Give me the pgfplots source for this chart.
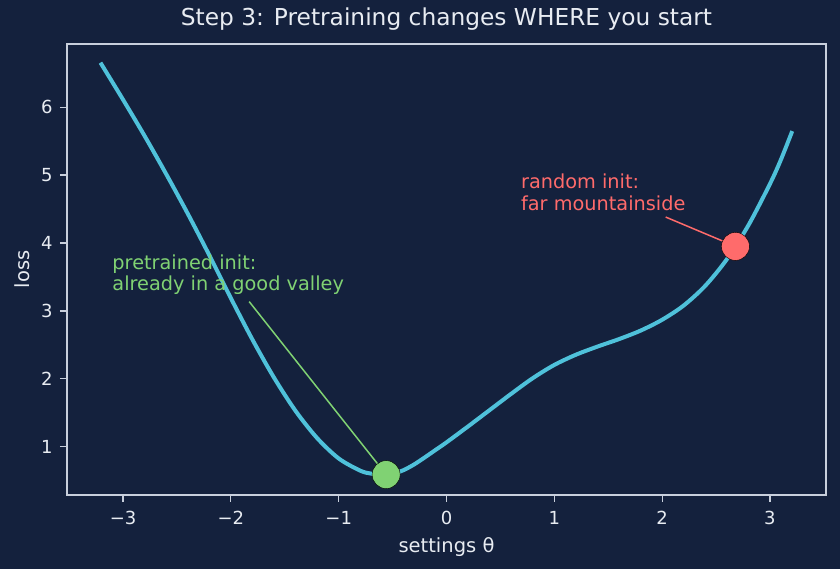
\documentclass[border=0pt]{standalone}
\usepackage{fontspec}
\setmainfont{DejaVu Sans}
\usepackage{pgfplots}
\pgfplotsset{compat=1.18}
\definecolor{bg}{HTML}{14213D}
\definecolor{curve}{HTML}{4FC1DA}
\definecolor{spine}{HTML}{C8CFDC}
\definecolor{txt}{HTML}{E8ECF2}
\definecolor{good}{HTML}{80D273}
\definecolor{bad}{HTML}{FF6B6B}
\begin{document}
\begin{tikzpicture}[x=1pt,y=1pt]
\fill[bg] (0,0) rectangle (840,569);
\useasboundingbox (0,0) rectangle (840,569);
\begin{axis}[
  at={(67pt,74pt)}, anchor=south west,
  width=759pt, height=451pt, scale only axis,
  xmin=-3.52, xmax=3.52, ymin=0.29, ymax=6.93,
  axis line style={draw=spine, line width=1.2pt},
  tick style={draw=spine, line width=1.2pt},
  major tick length=7pt, tick align=outside,
  xtick pos=bottom, ytick pos=left,
  xtick={-3,-2,-1,0,1,2,3},
  xticklabels={−3,−2,−1,0,1,2,3},
  ytick={1,2,3,4,5,6},
  yticklabels={1,2,3,4,5,6},
  /pgf/number format/assume math mode=true,
  xticklabel style={font=\fontsize{18}{20}\selectfont, text=txt, anchor=base, inner sep=0pt, yshift=-23pt},
  yticklabel style={font=\fontsize{18}{20}\selectfont, text=txt, anchor=east, inner sep=0pt, xshift=-7.3pt},
  title={Step 3: Pretraining changes WHERE you start},
  title style={font=\fontsize{23.3}{28}\selectfont, text=txt, at={(axis description cs:0.5,1)}, anchor=base, yshift=12pt, inner sep=0pt},
  xlabel={settings θ},
  xlabel style={font=\fontsize{19.5}{22}\selectfont, text=txt, at={(axis description cs:0.5,0)}, anchor=base, yshift=-58pt, inner sep=0pt},
  ylabel={loss},
  ylabel style={font=\fontsize{19.5}{22}\selectfont, text=txt, at={(axis description cs:0,0.5)}, anchor=center, yshift=44.5pt, inner sep=0pt},
  clip=false,
]
\addplot[curve, line width=4pt, smooth, line cap=rect] coordinates {
(-3.2,6.63) (-3.0,6.11) (-2.8,5.576) (-2.6,5.015) (-2.4,4.432) (-2.2,3.82)
(-2.0,3.188) (-1.8,2.578) (-1.6,2.018) (-1.4,1.528) (-1.2,1.128) (-1.0,0.828)
(-0.8,0.648) (-0.7,0.605) (-0.6,0.588) (-0.5,0.60) (-0.4,0.655) (-0.3,0.74)
(-0.2,0.845) (-0.1,0.955) (0.0,1.065) (0.2,1.30) (0.4,1.54) (0.6,1.78)
(0.8,2.01) (1.0,2.205) (1.2,2.355) (1.4,2.475) (1.6,2.585) (1.8,2.71)
(2.0,2.87) (2.2,3.08) (2.4,3.37) (2.6,3.76) (2.8,4.26) (3.0,4.87)
(3.1,5.22) (3.2,5.62)
};
\addplot[good, line width=1.5pt] coordinates {(-1.83,3.137) (-0.56,0.59)};
\addplot[bad, line width=1.5pt] coordinates {(2.033,4.382) (2.68,3.95)};
\addplot[only marks, mark=*, mark size=14pt, mark options={fill=good, draw=none}] coordinates {(-0.56,0.59)};
\addplot[only marks, mark=*, mark size=14pt, mark options={fill=bad, draw=none}] coordinates {(2.68,3.95)};
\node[anchor=base west, inner sep=0pt, text=bad, font=\fontsize{19.3}{23}\selectfont] at (axis cs:0.69,4.804) {random init:};
\node[anchor=base west, inner sep=0pt, text=bad, font=\fontsize{19.3}{23}\selectfont] at (axis cs:0.69,4.485) {far mountainside};
\node[anchor=base west, inner sep=0pt, text=good, font=\fontsize{19.3}{23}\selectfont] at (axis cs:-3.1,3.613) {pretrained init:};
\node[anchor=base west, inner sep=0pt, text=good, font=\fontsize{19.3}{23}\selectfont] at (axis cs:-3.1,3.294) {already in a good valley};
\end{axis}
\end{tikzpicture}
\end{document}
